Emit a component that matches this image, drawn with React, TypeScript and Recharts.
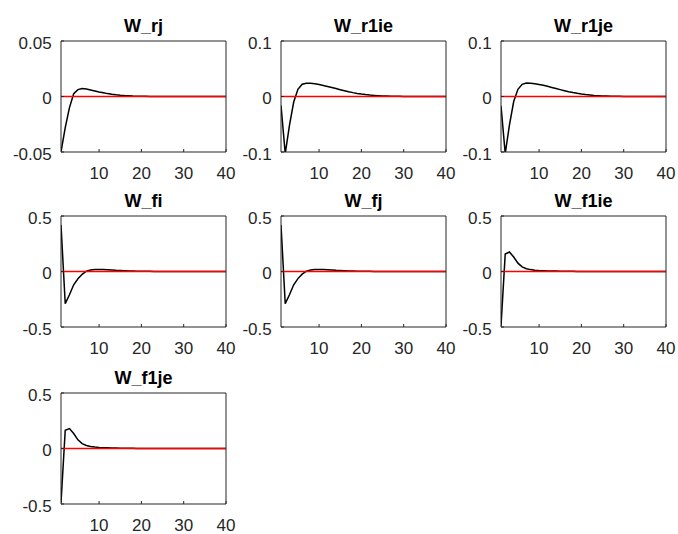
import { LineChart, Line, XAxis, YAxis, ReferenceLine } from "recharts";

// impulse responses, horizon 1..40
const periods = Array.from({ length: 40 }, (_, i) => i + 1);
const xTicks = [10, 20, 30, 40];

const wRj = [
  -0.05, -0.028, -0.01, 0.0025, 0.0062, 0.0071, 0.0067, 0.0058, 0.0049, 0.004,
  0.0033, 0.0026, 0.002, 0.0015, 0.0011, 0.0008, 0.0006, 0.0004, 0.0003, 0.0002,
  0.00015, 0.0001, 0.0001, 0.00008, 0.00006, 0.00005, 0.00004, 0.00003, 0.00002, 0.00002,
  0.00001, 0.00001, 0, 0, 0, 0, 0, 0, 0, 0,
];

const wR1ie = [
  -0.016, -0.103, -0.052, -0.01, 0.013, 0.022, 0.024, 0.0238, 0.0228, 0.0215,
  0.02, 0.0182, 0.0163, 0.0143, 0.0123, 0.0104, 0.0086, 0.007, 0.0056, 0.0044,
  0.0034, 0.0026, 0.002, 0.0015, 0.0011, 0.0008, 0.0006, 0.0004, 0.0003, 0.0002,
  0.00015, 0.0001, 0.0001, 0.00007, 0.00005, 0.00004, 0.00003, 0.00002, 0.00001, 0,
];

const wR1je = [
  -0.017, -0.103, -0.051, -0.009, 0.013, 0.022, 0.0242, 0.024, 0.023, 0.0216,
  0.0201, 0.0183, 0.0164, 0.0144, 0.0124, 0.0105, 0.0087, 0.0071, 0.0057, 0.0045,
  0.0035, 0.0027, 0.002, 0.0015, 0.0011, 0.0008, 0.0006, 0.0004, 0.0003, 0.0002,
  0.00015, 0.0001, 0.0001, 0.00007, 0.00005, 0.00004, 0.00003, 0.00002, 0.00001, 0,
];

const wFi = [
  0.42, -0.29, -0.21, -0.12, -0.065, -0.025, 0.003, 0.013, 0.018, 0.019,
  0.018, 0.016, 0.014, 0.011, 0.009, 0.007, 0.0055, 0.0042, 0.0032, 0.0024,
  0.0018, 0.0013, 0.001, 0.0007, 0.0005, 0.0004, 0.0003, 0.0002, 0.0001, 0.0001,
  0.0001, 0, 0, 0, 0, 0, 0, 0, 0, 0,
];

const wFj = [
  0.42, -0.29, -0.21, -0.12, -0.064, -0.024, 0.003, 0.013, 0.018, 0.019,
  0.018, 0.016, 0.014, 0.011, 0.009, 0.007, 0.0055, 0.0042, 0.0032, 0.0024,
  0.0018, 0.0013, 0.001, 0.0007, 0.0005, 0.0004, 0.0003, 0.0002, 0.0001, 0.0001,
  0.0001, 0, 0, 0, 0, 0, 0, 0, 0, 0,
];

const wF1ie = [
  -0.49, 0.158, 0.176, 0.13, 0.075, 0.042, 0.025, 0.017, 0.012, 0.009,
  0.007, 0.0055, 0.0043, 0.0034, 0.0027, 0.0021, 0.0016, 0.0012, 0.0009, 0.0007,
  0.0005, 0.0004, 0.0003, 0.0002, 0.0002, 0.0001, 0.0001, 0.0001, 0, 0,
  0, 0, 0, 0, 0, 0, 0, 0, 0, 0,
];

const wF1je = [
  -0.49, 0.165, 0.18, 0.135, 0.078, 0.044, 0.027, 0.018, 0.013, 0.0095,
  0.0073, 0.0057, 0.0045, 0.0035, 0.0028, 0.0022, 0.0017, 0.0013, 0.001, 0.0007,
  0.0005, 0.0004, 0.0003, 0.0002, 0.0002, 0.0001, 0.0001, 0.0001, 0, 0,
  0, 0, 0, 0, 0, 0, 0, 0, 0, 0,
];

const axisColor = "#262626";
const font = "'Liberation Sans', Arial, Helvetica, sans-serif";

interface PanelProps {
  title: string;
  values: number[];
  yMax: number;
  left: number;
  top: number;
}

function Panel({ title, values, yMax, left, top }: PanelProps) {
  const data = periods.map((t, i) => ({ t, v: values[i] }));
  const yTicks = [-yMax, 0, yMax];
  const fmt = (v: number) => (v === 0 ? "0" : String(v));

  return (
    <div style={{ position: "absolute", left: left - 61, top: top - 41, width: 246, height: 182 }}>
      <div
        style={{
          position: "absolute",
          left: 61,
          width: 165,
          top: 17,
          textAlign: "center",
          fontFamily: font,
          fontWeight: "bold",
          fontSize: 18,
          lineHeight: "18px",
          color: "#000",
        }}
      >
        {title}
      </div>
      <LineChart
        width={246}
        height={182}
        data={data}
        margin={{ top: 40, right: 19, bottom: 0, left: 0 }}
        style={{ fontFamily: font }}
      >
        <XAxis
          dataKey="t"
          type="number"
          domain={[1, 40]}
          ticks={xTicks}
          allowDataOverflow
          height={30}
          tickSize={-3}
          tickMargin={17.5}
          stroke={axisColor}
          tick={{ fill: axisColor, fontSize: 17 }}
        />
        {/* box top edge with inner ticks */}
        <XAxis
          xAxisId="top"
          orientation="top"
          dataKey="t"
          type="number"
          domain={[1, 40]}
          ticks={xTicks}
          allowDataOverflow
          height={1}
          tickSize={-3}
          tick={false}
          stroke={axisColor}
        />
        <YAxis
          type="number"
          domain={[-yMax, yMax]}
          ticks={yTicks}
          allowDataOverflow
          tickFormatter={fmt}
          width={61}
          tickSize={-3}
          tickMargin={12.3}
          stroke={axisColor}
          tick={{ fill: axisColor, fontSize: 17, dy: 1.5 }}
        />
        {/* box right edge */}
        <YAxis
          yAxisId="right"
          orientation="right"
          type="number"
          domain={[-yMax, yMax]}
          ticks={yTicks}
          allowDataOverflow
          width={1}
          tickSize={-3}
          tick={false}
          stroke={axisColor}
        />
        <Line
          dataKey="v"
          type="linear"
          stroke="#000"
          strokeWidth={1.5}
          dot={false}
          isAnimationActive={false}
        />
        <ReferenceLine y={0} stroke="#ff0000" strokeWidth={1.3} />
      </LineChart>
    </div>
  );
}

export default function App() {
  return (
    <div style={{ position: "absolute", left: 0, top: 0, width: 678, height: 534, background: "#fff" }}>
      <Panel title="W_rj" values={wRj} yMax={0.05} left={61} top={41} />
      <Panel title="W_r1ie" values={wR1ie} yMax={0.1} left={281} top={41} />
      <Panel title="W_r1je" values={wR1je} yMax={0.1} left={501} top={41} />
      <Panel title="W_fi" values={wFi} yMax={0.5} left={61} top={216} />
      <Panel title="W_fj" values={wFj} yMax={0.5} left={281} top={216} />
      <Panel title="W_f1ie" values={wF1ie} yMax={0.5} left={501} top={216} />
      <Panel title="W_f1je" values={wF1je} yMax={0.5} left={61} top={393} />
    </div>
  );
}
